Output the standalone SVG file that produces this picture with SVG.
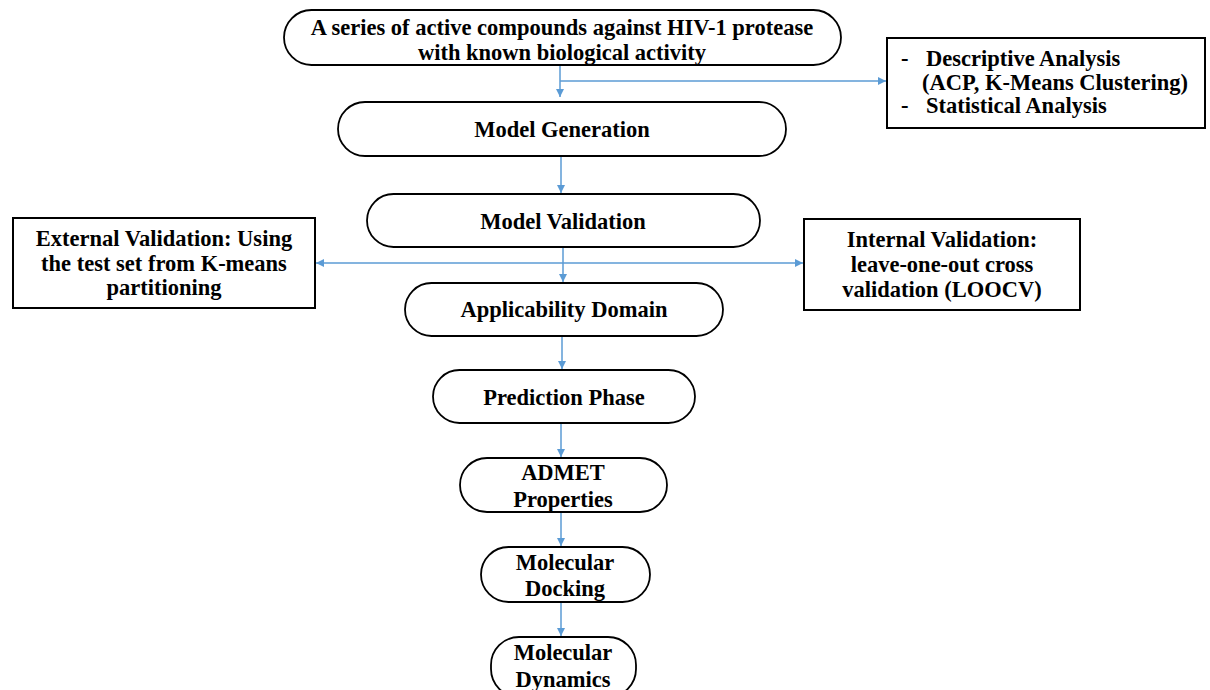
<svg xmlns="http://www.w3.org/2000/svg" width="1210" height="690" viewBox="0 0 1210 690">
<style>
.pill{fill:#fff;stroke:#000;stroke-width:1.8}
.box{fill:#fff;stroke:#000;stroke-width:2}
.t{font-family:"Liberation Serif","Times New Roman",serif;font-weight:bold;font-size:22.5px;fill:#000;text-anchor:middle}
.tl{font-family:"Liberation Serif","Times New Roman",serif;font-weight:bold;font-size:22.5px;fill:#000}
.c{stroke:#5B9BD5;stroke-width:1.5;fill:none;marker-end:url(#ah)}
</style>
<defs>
<marker id="ah" viewBox="0 0 10 10" refX="10" refY="5" markerWidth="8" markerHeight="8" markerUnits="userSpaceOnUse" orient="auto">
<path d="M0,0 L10,5 L0,10 Z" fill="#5B9BD5"/>
</marker>
</defs>
<rect width="1210" height="690" fill="#fff"/>
<g id="connectors">
<line class="c" x1="560" y1="65" x2="560" y2="97"/>
<line class="c" x1="560" y1="81" x2="886" y2="81"/>
<line class="c" x1="561" y1="156" x2="561" y2="193"/>
<line class="c" x1="563" y1="248" x2="563" y2="282"/>
<line class="c" x1="563" y1="263" x2="316" y2="263"/>
<line class="c" x1="563" y1="263" x2="803" y2="263"/>
<line class="c" x1="562" y1="337" x2="562" y2="369"/>
<line class="c" x1="561" y1="424" x2="561" y2="457"/>
<line class="c" x1="561" y1="513" x2="561" y2="546"/>
<line class="c" x1="561" y1="603" x2="561" y2="636"/>
</g>
<g id="n1"><rect class="pill" x="284" y="10" width="557" height="55" rx="27.5"/>
<text class="t" x="562" y="35">A series of active compounds against HIV-1 protease</text>
<text class="t" x="562" y="60">with known biological activity</text></g>
<g id="n_analysis"><rect class="box" x="887" y="38" width="318" height="90"/>
<text class="tl" x="901" y="66">-</text><text class="tl" x="926" y="66">Descriptive Analysis</text>
<text class="tl" x="922" y="89.5">(ACP, K-Means Clustering)</text>
<text class="tl" x="901" y="113">-</text><text class="tl" x="926" y="113">Statistical Analysis</text></g>
<g id="n2"><rect class="pill" x="338" y="102" width="448" height="54" rx="27"/>
<text class="t" x="562" y="137">Model Generation</text></g>
<g id="n3"><rect class="pill" x="367" y="194" width="393" height="53" rx="26.5"/>
<text class="t" x="563" y="229">Model Validation</text></g>
<g id="n_ext"><rect class="box" x="13" y="218" width="302" height="90"/>
<text class="t" x="164" y="246">External Validation: Using</text>
<text class="t" x="164" y="271">the test set from K-means</text>
<text class="t" x="164" y="295">partitioning</text></g>
<g id="n_int"><rect class="box" x="804" y="219" width="276" height="91"/>
<text class="t" x="942" y="247">Internal Validation:</text>
<text class="t" x="942" y="272">leave-one-out cross</text>
<text class="t" x="942" y="297">validation (LOOCV)</text></g>
<g id="n4"><rect class="pill" x="405" y="283" width="318" height="53" rx="26.5"/>
<text class="t" x="564" y="317">Applicability Domain</text></g>
<g id="n5"><rect class="pill" x="433" y="370" width="262" height="53" rx="26.5"/>
<text class="t" x="564" y="405">Prediction Phase</text></g>
<g id="n6"><rect class="pill" x="460" y="458" width="207" height="54" rx="27"/>
<text class="t" x="563" y="480">ADMET</text>
<text class="t" x="563" y="507">Properties</text></g>
<g id="n7"><rect class="pill" x="481" y="547" width="169" height="55" rx="27.5"/>
<text class="t" x="565" y="570">Molecular</text>
<text class="t" x="565" y="596">Docking</text></g>
<g id="n8"><rect class="pill" x="491" y="637" width="145" height="60" rx="28"/>
<text class="t" x="563" y="660">Molecular</text>
<text class="t" x="563" y="687">Dynamics</text></g>
</svg>
